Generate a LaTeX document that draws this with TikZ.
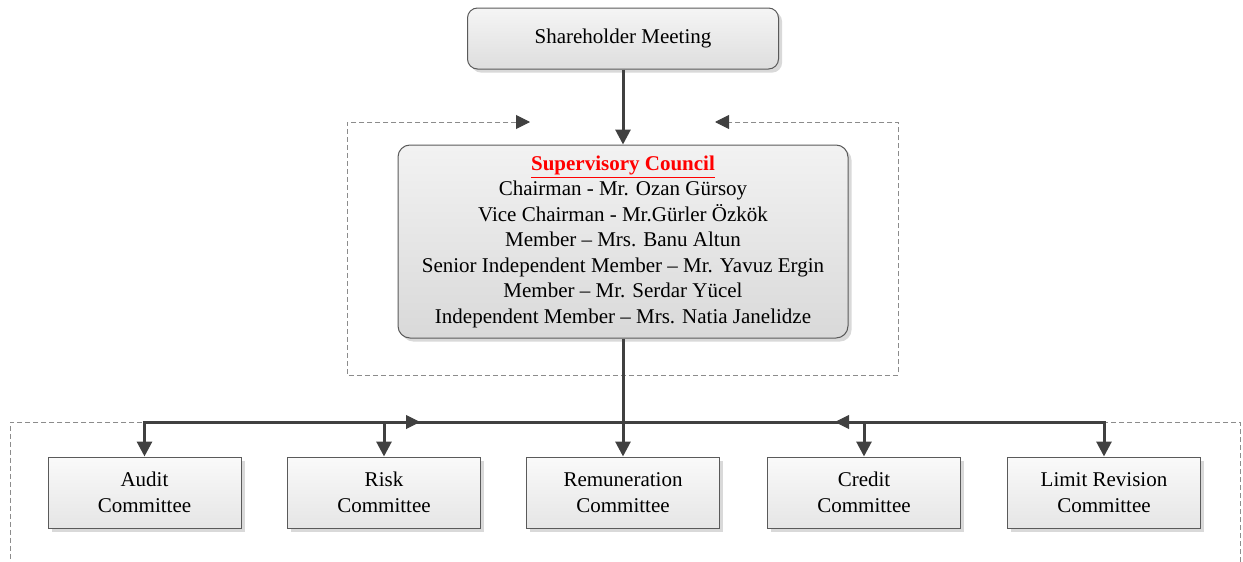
\documentclass[tikz,border=0pt]{standalone}
\usepackage{fontspec}
\setmainfont{Liberation Serif}
\usetikzlibrary{arrows.meta,shadows}
\definecolor{linegray}{HTML}{404040}
\definecolor{edgegray}{HTML}{5A5A5A}
\definecolor{dashgray}{HTML}{8C8C8C}
\begin{document}
\begin{tikzpicture}[x=0.5pt,y=-0.5pt,
    font=\fontsize{10.5}{12.75}\selectfont,
    boxbase/.style={draw=edgegray,line width=0.5pt,align=center,inner sep=0pt,
      drop shadow={shadow xshift=1.8pt,shadow yshift=-1.8pt,fill=black!25,opacity=0.6}},
    meetingbox/.style={boxbase,rounded corners=5pt,minimum width=155.5pt,minimum height=30.5pt,
      top color=black!4,bottom color=black!13},
    councilbox/.style={boxbase,rounded corners=6pt,minimum width=225pt,minimum height=96.5pt,
      top color=black!5,bottom color=black!15},
    committeebox/.style={boxbase,minimum width=96.5pt,minimum height=35.5pt,
      top color=black!2,bottom color=black!10},
    link/.style={draw=linegray,line width=1.5pt,-{Triangle[length=7.5pt,width=7.5pt]}},
    feedback/.style={draw=dashgray,line width=0.5pt,dash pattern=on 2.5pt off 1.5pt}]
  \useasboundingbox (0,0) rectangle (1243,562);
  \draw
    (623,38.5) node[meetingbox] (meeting){Shareholder Meeting}
    (623,241.5) node[councilbox] (council){%
      \textcolor{red}{\underline{\textbf{Supervisory Council}}}\\
      Chairman - Mr. Ozan Gürsoy\\
      Vice Chairman - Mr.Gürler Özkök\\
      Member – Mrs. Banu Altun\\
      Senior Independent Member – Mr. Yavuz Ergin\\
      Member – Mr. Serdar Yücel\\
      Independent Member – Mrs. Natia Janelidze}
    (144.5,492.5) node[committeebox] (audit){Audit\\Committee}
    (384,492.5) node[committeebox] (risk){Risk\\Committee}
    (623,492.5) node[committeebox] (remuneration){Remuneration\\Committee}
    (864,492.5) node[committeebox] (credit){Credit\\Committee}
    (1104,492.5) node[committeebox] (limit){Limit Revision\\Committee};
  \coordinate (hub) at (623,422);
  \coordinate (upL) at (530,122);
  \coordinate (upR) at (715,122);
  \coordinate (busL) at (420,422);
  \coordinate (busR) at (835,422);
  \coordinate (baseL) at (10,562);
  \coordinate (baseR) at (1240,562);
  \begin{scope}[feedback]
    \draw[{Triangle[length=7pt,width=7pt,color=linegray]}-{Triangle[length=7pt,width=7pt,color=linegray]}]
      (upL) -- (347,122) |- (898,375) |- (upR);
    \draw[{Triangle[length=7pt,width=7pt,color=linegray]}-] (busL) -| (baseL);
    \draw[-{Triangle[length=7pt,width=7pt,color=linegray]}] (baseR) |- (busR);
  \end{scope}
  \begin{scope}[link]
    \draw (meeting) to (council);
    \draw[-] (council) to (hub);
    \draw (hub) -| (audit);
    \draw (hub) -| (risk);
    \draw (hub) to (remuneration);
    \draw (hub) -| (credit);
    \draw (hub) -| (limit);
  \end{scope}
\end{tikzpicture}
\end{document}
